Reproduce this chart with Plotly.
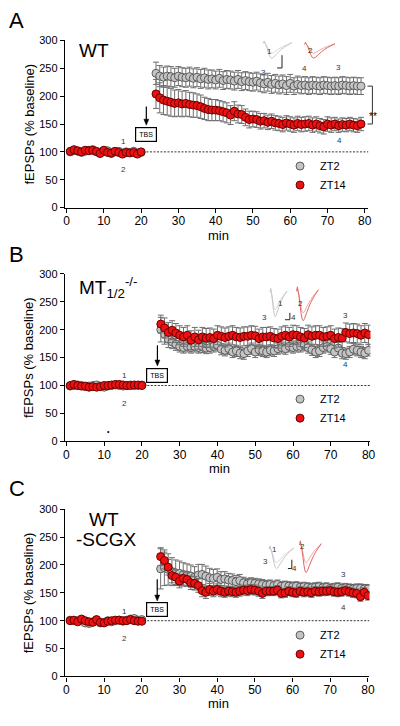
import plotly.graph_objects as go

# ---------------- data ----------------
base_t = [1, 2, 3, 4, 5, 6, 7, 8, 9, 10, 11, 12, 13, 14, 15, 16, 17, 18, 19, 20]
post_t_A = [24, 25, 26, 27, 28, 29, 30, 31, 32, 33, 34, 35, 36, 37, 38, 39, 40, 41, 42, 43,
            44, 45, 46, 47, 48, 49, 50, 51, 52, 53, 54, 55, 56, 57, 58, 59, 60, 61, 62, 63,
            64, 65, 66, 67, 68, 69, 70, 71, 72, 73, 74, 75, 76, 77, 78, 79]
post_t_BC = [25, 26, 27, 28, 29, 30, 31, 32, 33, 34, 35, 36, 37, 38, 39, 40, 41, 42, 43, 44,
             45, 46, 47, 48, 49, 50, 51, 52, 53, 54, 55, 56, 57, 58, 59, 60, 61, 62, 63, 64,
             65, 66, 67, 68, 69, 70, 71, 72, 73, 74, 75, 76, 77, 78, 79, 80]

# Panel A (WT)
A_zt2_base = [100, 102, 101, 99, 101, 103, 104, 100, 99, 101, 102, 97, 100, 101, 98, 100, 99, 101, 98, 99]
A_zt14_base = [101, 104, 102, 100, 103, 102, 103, 101, 97, 103, 99, 98, 101, 99, 96, 99, 98, 99, 96, 100]
A_zt2_post = [241, 236, 234, 236, 235, 233, 236, 234,
              233, 235, 232, 234, 231, 233, 230, 231,
              229, 232, 228, 230, 229, 227, 230, 226,
              228, 226, 225, 227, 224, 222, 225, 221,
              223, 220, 222, 219, 223, 218, 221, 219,
              220, 218, 220, 219, 218, 220, 219, 218,
              219, 218, 220, 219, 218, 219, 218, 218]
A_zt14_post = [204, 197, 193, 191, 189, 187, 188, 186,
               187, 185, 184, 183, 181, 178, 176, 175,
               175, 174, 172, 170, 166, 173, 168, 167,
               162, 158, 159, 158, 155, 156, 153, 155,
               152, 151, 149, 152, 150, 148, 151, 149,
               150, 151, 148, 150, 147, 145, 150, 148,
               150, 147, 149, 148, 150, 148, 147, 150]
A_zt2_base_err = [3, 3, 3, 3, 3, 3, 3, 3, 3, 3, 3, 3, 3, 3, 3, 3, 3, 3, 3, 3]
A_zt14_base_err = [3, 3, 3, 3, 3, 3, 3, 3, 3, 3, 3, 3, 3, 3, 3, 3, 3, 3, 3, 3]
A_zt2_post_err = [20, 19, 18, 18, 18, 17, 17, 17,
                  17, 17, 17, 17, 17, 17, 17, 16,
                  16, 16, 16, 16, 16, 16, 16, 16,
                  16, 16, 16, 16, 16, 16, 16, 16,
                  16, 16, 16, 16, 16, 15, 15, 15,
                  15, 15, 15, 15, 15, 15, 15, 15,
                  15, 15, 15, 15, 15, 15, 15, 15]
A_zt14_post_err = [26, 27, 26, 25, 25, 24, 24, 23,
                   23, 22, 22, 21, 21, 20, 20, 19,
                   19, 18, 18, 18, 17, 17, 16, 16,
                   15, 15, 14, 14, 14, 13, 13, 13,
                   13, 13, 13, 13, 13, 13, 13, 13,
                   13, 13, 13, 13, 13, 13, 13, 13,
                   12, 12, 12, 12, 12, 12, 12, 12]

# Panel B (MT1/2 -/-)
B_zt2_base = [99, 100, 101, 100, 98, 99, 100, 101, 99, 97, 99, 100, 101, 100, 99, 100, 101, 100, 100, 101]
B_zt14_base = [100, 102, 100, 99, 99, 97, 98, 97, 98, 100, 100, 101, 102, 102, 101, 100, 100, 101, 101, 100]
B_zt2_post = [200, 192, 183, 178, 174, 170, 168, 170,
              168, 170, 168, 169, 167, 168, 170, 172,
              165, 163, 166, 160, 162, 158, 157, 162,
              166, 160, 164, 162, 160, 163, 162, 166,
              168, 166, 170, 168, 170, 170, 172, 168,
              164, 160, 162, 168, 170, 166, 160, 167,
              158, 157, 160, 165, 163, 160, 158, 163]
B_zt14_post = [210, 203, 195, 199, 194, 190, 187, 190,
               181, 187, 182, 187, 185, 186, 184, 190,
               188, 186, 188, 190, 187, 186, 188, 188,
               190, 189, 184, 187, 187, 188, 185, 184,
               188, 190, 187, 191, 190, 187, 185, 191,
               188, 190, 190, 187, 188, 190, 184, 186,
               185, 195, 193, 194, 193, 190, 194, 191]
B_zt2_base_err = [3, 3, 3, 3, 3, 3, 3, 3, 3, 3, 3, 3, 3, 3, 3, 3, 3, 3, 3, 3]
B_zt14_base_err = [3, 3, 3, 3, 3, 3, 3, 3, 3, 3, 3, 3, 3, 3, 3, 3, 3, 3, 3, 3]
B_zt2_post_err = [22, 18, 15, 12, 11, 10, 10, 10,
                  10, 10, 10, 10, 10, 10, 10, 10,
                  10, 10, 10, 10, 10, 10, 10, 10,
                  10, 10, 10, 10, 10, 10, 10, 10,
                  10, 10, 10, 10, 10, 10, 10, 10,
                  10, 10, 10, 10, 10, 10, 10, 10,
                  10, 10, 10, 10, 10, 10, 10, 10]
B_zt14_post_err = [16, 18, 18, 17, 17, 17, 17, 17,
                   17, 17, 17, 17, 17, 17, 17, 17,
                   17, 17, 17, 17, 17, 17, 17, 17,
                   17, 17, 17, 17, 17, 17, 17, 17,
                   17, 17, 17, 17, 17, 17, 17, 17,
                   17, 17, 17, 17, 17, 17, 17, 17,
                   17, 17, 17, 17, 17, 17, 17, 17]

# Panel C (WT -SCGX)
C_zt2_base = [101, 100, 100, 100, 96, 95, 98, 101, 96, 97, 100, 98, 100, 101, 99, 101, 103, 104, 101, 102]
C_zt14_base = [100, 101, 98, 103, 100, 98, 97, 102, 97, 96, 99, 100, 101, 101, 100, 100, 102, 100, 99, 99]
C_zt2_post = [193, 195, 192, 188, 186, 185, 183, 182,
              180, 178, 182, 183, 180, 177, 176, 178,
              174, 175, 173, 172, 170, 172, 168, 166,
              168, 167, 166, 165, 164, 165, 163, 165,
              162, 163, 162, 161, 162, 160, 161, 160,
              159, 160, 161, 159, 160, 158, 159, 160,
              158, 159, 158, 157, 158, 158, 157, 157]
C_zt14_post = [215, 208, 196, 181, 178, 171, 176, 174,
               168, 167, 163, 154, 151, 156, 153, 156,
               153, 151, 153, 152, 151, 153, 155, 154,
               156, 155, 153, 149, 153, 153, 153, 155,
               149, 150, 153, 151, 150, 153, 151, 152,
               150, 153, 152, 153, 153, 154, 152, 151,
               152, 154, 152, 150, 149, 143, 151, 145]
C_zt2_base_err = [3, 3, 3, 3, 3, 3, 3, 3, 3, 3, 3, 3, 3, 3, 3, 3, 3, 3, 3, 3]
C_zt14_base_err = [3, 3, 3, 3, 3, 3, 3, 3, 3, 3, 3, 3, 3, 3, 3, 3, 3, 3, 3, 3]
C_zt2_post_err = [36, 32, 28, 25, 23, 22, 21, 20,
                  20, 19, 19, 18, 18, 17, 16, 15,
                  14, 13, 12, 12, 11, 11, 10, 10,
                  9, 9, 9, 9, 8, 8, 8, 8,
                  8, 8, 8, 8, 8, 8, 8, 8,
                  8, 8, 8, 8, 8, 8, 8, 8,
                  8, 8, 8, 8, 8, 8, 8, 8]
C_zt14_post_err = [16, 15, 14, 13, 13, 12, 12, 12,
                   12, 12, 12, 11, 11, 11, 10, 10,
                   10, 9, 9, 9, 9, 9, 9, 9,
                   9, 9, 9, 9, 8, 8, 8, 8,
                   8, 8, 8, 8, 8, 8, 8, 8,
                   8, 8, 8, 8, 8, 8, 8, 8,
                   8, 8, 8, 8, 8, 8, 8, 8]

x_ticks = [0, 10, 20, 30, 40, 50, 60, 70, 80]
y_ticks = [0, 50, 100, 150, 200, 250, 300]
group_names = ["ZT2", "ZT14"]
panel_letters = ["A", "B", "C"]
x_title = "min"
y_title = "fEPSPs (% baseline)"

# ---------------- layout geometry (pixels) ----------------
W, H = 400, 726
FONT = "Arial, Liberation Sans, sans-serif"
panels = [
    dict(x0=64, x1=373, y0=35, y1=205, xr=[-0.45, 81.0]),
    dict(x0=64, x1=375, y0=272.3, y1=442.7, xr=[-0.4, 80.5]),
    dict(x0=64, x1=374, y0=511.7, y1=681.7, xr=[-0.4, 80.4]),
]

def px(x):
    return x / W

def py(y):
    return 1 - y / H

def data_px(i, xv):
    p = panels[i]
    return p["x0"] + (xv - p["xr"][0]) / (p["xr"][1] - p["xr"][0]) * (p["x1"] - p["x0"])

def data_py(i, v):
    p = panels[i]
    return p["y1"] - v / 300 * (p["y1"] - p["y0"])

series = [
    (base_t + post_t_A, A_zt2_base + A_zt2_post, A_zt2_base_err + A_zt2_post_err,
     A_zt14_base + A_zt14_post, A_zt14_base_err + A_zt14_post_err),
    (base_t + post_t_BC, B_zt2_base + B_zt2_post, B_zt2_base_err + B_zt2_post_err,
     B_zt14_base + B_zt14_post, B_zt14_base_err + B_zt14_post_err),
    (base_t + post_t_BC, C_zt2_base + C_zt2_post, C_zt2_base_err + C_zt2_post_err,
     C_zt14_base + C_zt14_post, C_zt14_base_err + C_zt14_post_err),
]

GRAY_FILL, GRAY_LINE = "#c4c4c4", "#5a5a5a"
RED_FILL, RED_LINE = "#ee1111", "#6a0000"
ERR_COLOR = "#6e6e6e"
LABEL_COLOR = "#333333"

fig = go.Figure()
layout = dict(
    width=W, height=H, margin=dict(l=0, r=0, t=0, b=0),
    paper_bgcolor="white", plot_bgcolor="white",
    font=dict(family=FONT, color="black"),
)
annotations = []
shapes = []

legend_tops = [148, 385, 625]
for i, p in enumerate(panels):
    sfx = "" if i == 0 else str(i + 1)
    xa, ya = "x" + sfx, "y" + sfx
    leg = "legend" + sfx
    t, g, ge, r, re = series[i]
    fig.add_trace(go.Scatter(
        x=t, y=g, mode="markers", name=group_names[0], xaxis=xa, yaxis=ya, legend=leg,
        marker=dict(size=8, color=GRAY_FILL, line=dict(color=GRAY_LINE, width=1)),
        error_y=dict(type="data", array=ge, color=ERR_COLOR, thickness=1, width=3),
    ))
    fig.add_trace(go.Scatter(
        x=t, y=r, mode="markers", name=group_names[1], xaxis=xa, yaxis=ya, legend=leg,
        marker=dict(size=8, color=RED_FILL, line=dict(color=RED_LINE, width=1)),
        error_y=dict(type="data", array=re, color=ERR_COLOR, thickness=1, width=3),
    ))
    layout["xaxis" + sfx] = dict(
        domain=[px(p["x0"]), px(p["x1"])], range=p["xr"], anchor=ya,
        showline=True, linecolor="black", linewidth=1.2, mirror=False,
        ticks="outside", ticklen=4, tickwidth=1.2, tickcolor="black",
        tickvals=x_ticks, showgrid=False, zeroline=False,
        tickfont=dict(size=12, family=FONT, color="black"),
    )
    layout["yaxis" + sfx] = dict(
        domain=[py(p["y1"]), py(p["y0"])], range=[0, 300], anchor=xa,
        showline=True, linecolor="black", linewidth=1.2,
        ticks="outside", ticklen=4, tickwidth=1.2, tickcolor="black",
        tickvals=y_ticks, showgrid=False, zeroline=False,
        tickfont=dict(size=11, family=FONT, color="black"),
    )
    layout[leg] = dict(
        x=px(283), y=py(legend_tops[i]), xanchor="left", yanchor="top",
        bgcolor="rgba(0,0,0,0)", font=dict(size=11, family=FONT, color="black"),
        borderwidth=0, tracegroupgap=0,
    )
    # axis titles placed precisely as annotations
    annotations.append(dict(text=x_title, xref="paper", yref="paper",
                            x=px((p["x0"] + p["x1"]) / 2 + 1.5), y=py(p["y1"] + 28),
                            showarrow=False, font=dict(size=13, family=FONT),
                            xanchor="center", yanchor="middle"))
    annotations.append(dict(text=y_title, xref="paper", yref="paper", textangle=-90,
                            x=px(27), y=py((p["y0"] + p["y1"]) / 2),
                            showarrow=False, font=dict(size=13, family=FONT),
                            xanchor="center", yanchor="middle"))
    # dotted 100% baseline reference
    shapes.append(dict(type="line", xref=xa, yref=ya, x0=20.5, x1=p["xr"][1], y0=100, y1=100,
                       line=dict(color="#333333", width=1, dash="2px,1.5px")))
    # panel letter
    annotations.append(dict(text=panel_letters[i], xref="paper", yref="paper",
                            x=px(15), y=py([15, 253, 491][i]), showarrow=False,
                            font=dict(size=22, family=FONT), xanchor="center", yanchor="middle"))

# genotype labels
annotations.append(dict(text="WT", xref="paper", yref="paper", x=px(76), y=py(45), xanchor="left",
                        yanchor="middle", showarrow=False, font=dict(size=19, family=FONT)))
annotations.append(dict(text="MT<sub>1/2</sub><sup>-/-</sup>", xref="paper", yref="paper", x=px(76),
                        y=py(286), xanchor="left", yanchor="middle", showarrow=False,
                        font=dict(size=19, family=FONT)))
annotations.append(dict(text="WT", xref="paper", yref="paper", x=px(104), y=py(522.5), xanchor="center",
                        yanchor="middle", showarrow=False, font=dict(size=19, family=FONT)))
annotations.append(dict(text="-SCGX", xref="paper", yref="paper", x=px(106), y=py(542), xanchor="center",
                        yanchor="middle", showarrow=False, font=dict(size=19, family=FONT)))

# TBS boxes and arrows (arrows drawn as shapes)
tbs = [(0, "x", "y", 21.4, 131.5, 148, 19), (1, "x2", "y2", 24.1, 118, 135, 21),
       (2, "x3", "y3", 24.1, 119.5, 135.4, 22)]
for i, xa, ya, xt, yb, ytip, alen in tbs:
    annotations.append(dict(text="TBS", xref=xa, yref=ya, x=xt, y=yb, showarrow=False,
                            font=dict(size=7, family=FONT), bordercolor="black", borderwidth=1.2,
                            borderpad=3, bgcolor="white"))
    ax_px = data_px(i, xt)
    tip_px = data_py(i, ytip)
    shapes.append(dict(type="line", xref="paper", yref="paper",
                       x0=px(ax_px), x1=px(ax_px), y0=py(tip_px - alen), y1=py(tip_px - 4),
                       line=dict(color="black", width=1.2)))
    shapes.append(dict(type="path", xref="paper", yref="paper",
                       path=f"M {px(ax_px - 2.5)},{py(tip_px - 6)} L {px(ax_px + 2.5)},{py(tip_px - 6)} "
                            f"L {px(ax_px)},{py(tip_px)} Z",
                       fillcolor="black", line=dict(color="black", width=0.5)))

# small trace-number labels
num_labels = [
    ("x", "y", [(15.3, 118, "1"), (15.3, 69, "2"), (73.0, 251, "3"), (73.3, 120, "4")]),
    ("x2", "y2", [(15.3, 118, "1"), (15.3, 68, "2"), (73.8, 225, "3"), (73.8, 137, "4")]),
    ("x3", "y3", [(15.3, 116, "1"), (15.3, 68, "2"), (73.4, 183, "3"), (73.4, 123, "4")]),
]
for xa, ya, items in num_labels:
    for xv, yv, s in items:
        annotations.append(dict(text=s, xref=xa, yref=ya, x=xv, y=yv, showarrow=False,
                                font=dict(size=8, family=FONT, color=LABEL_COLOR)))

# artifact dot in panel B
annotations.append(dict(text="•", xref="x2", yref="y2", x=11.2, y=17.6, showarrow=False,
                        font=dict(size=7, color="black")))

# significance bracket panel A
shapes.append(dict(type="path", xref="paper", yref="paper",
                   path=f"M {px(372)},{py(data_py(0, 218))} L {px(377)},{py(data_py(0, 218))} "
                        f"L {px(377)},{py(data_py(0, 150))} L {px(372)},{py(data_py(0, 150))}",
                   line=dict(color="#333", width=1)))
annotations.append(dict(text="**", xref="paper", yref="paper", x=px(384), y=py(105), showarrow=False,
                        font=dict(size=10, family=FONT, color="black")))

# inset example traces (decorative)
wave_shape = [(0, 0), (0.03, -0.15), (0.06, 0.0), (0.1, 0.15), (0.15, 0.45), (0.2, 0.75),
              (0.25, 0.95), (0.3, 1.0), (0.36, 0.93), (0.45, 0.75), (0.55, 0.55), (0.65, 0.38),
              (0.75, 0.24), (0.85, 0.12), (1.0, -0.05)]

def wave_path(x0, y0, w, d):
    return "M " + " L ".join(f"{px(x0 + fx * w):.4f},{py(y0 + fy * d):.4f}" for fx, fy in wave_shape)

insets = [
    (266, 38, 29, 10, 15, "#d9d9d9", "#c6c6c6"), (308, 39, 31, 9, 14, "#f2a8a8", "#e06666"),
    (273, 291, 17, 18, 25, "#d9d9d9", "#c6c6c6"), (300, 290, 22, 22, 30, "#f2a8a8", "#e06666"),
    (272, 552, 25, 14, 20, "#d9d9d9", "#c6c6c6"), (303, 548, 22, 18, 28, "#f2a8a8", "#e06666"),
]
for x0, y0, w, d1, d2, c1, c2 in insets:
    shapes.append(dict(type="path", xref="paper", yref="paper", path=wave_path(x0, y0, w, d1),
                       line=dict(color=c1, width=1)))
    shapes.append(dict(type="path", xref="paper", yref="paper", path=wave_path(x0, y0, w, d2),
                       line=dict(color=c2, width=1)))

scale_bars = [(285, 50, 63, 280), (293, 312, 319, 288), (295, 563, 572, 291)]
for xv, yt, yb, xl in scale_bars:
    shapes.append(dict(type="path", xref="paper", yref="paper",
                       path=f"M {px(xv)},{py(yt)} L {px(xv)},{py(yb)} L {px(xl)},{py(yb)}",
                       line=dict(color="#222", width=1)))

inset_labels = [(277, 40, "1"), (319, 39, "2"), (266, 61, "3"), (312, 57, "4"),
                (288, 302, "1"), (308, 302, "2"), (272, 317, "3"), (301, 317, "4"),
                (282, 559, "1"), (310, 556, "2"), (273, 571, "3"), (302, 579, "4")]
for xv, yv, s in inset_labels:
    annotations.append(dict(text=s, xref="paper", yref="paper", x=px(xv), y=py(yv), showarrow=False,
                            font=dict(size=8, family=FONT, color=LABEL_COLOR)))

layout["annotations"] = annotations
layout["shapes"] = shapes
fig.update_layout(**layout)
# pull x tick labels slightly toward the axis (as in the reference), if supported
try:
    fig.update_xaxes(ticklabelstandoff=-2)
except (ValueError, TypeError):
    pass
fig.write_html("out.html", config={"displayModeBar": False},
               post_script="document.body.style.margin='0px';document.body.style.overflow='hidden';")
